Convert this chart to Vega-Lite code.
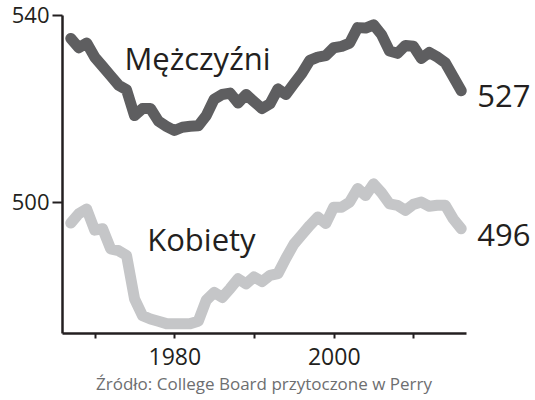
{
  "$schema": "https://vega.github.io/schema/vega-lite/v6.json",
  "width": 404,
  "height": 318,
  "autosize": "none",
  "padding": {"left": 62, "top": 15, "right": 69, "bottom": 67},
  "background": "white",
  "config": {"view": {"stroke": null}, "font": "Open Sans"},
  "title": {
    "text": "Źródło: College Board przytoczone w Perry",
    "orient": "bottom",
    "anchor": "middle",
    "fontSize": 17,
    "fontWeight": "normal",
    "font": "Open Sans",
    "color": "#6d6e70",
    "offset": 8
  },
  "datasets": {
    "scores": [
      {"year": 1967, "sex": "M", "score": 535}, {"year": 1968, "sex": "M", "score": 533}, {"year": 1969, "sex": "M", "score": 534},
      {"year": 1970, "sex": "M", "score": 531}, {"year": 1971, "sex": "M", "score": 529}, {"year": 1972, "sex": "M", "score": 527},
      {"year": 1973, "sex": "M", "score": 525}, {"year": 1974, "sex": "M", "score": 524}, {"year": 1975, "sex": "M", "score": 518.5},
      {"year": 1976, "sex": "M", "score": 520}, {"year": 1977, "sex": "M", "score": 520}, {"year": 1978, "sex": "M", "score": 517.3},
      {"year": 1979, "sex": "M", "score": 516.2}, {"year": 1980, "sex": "M", "score": 515.3}, {"year": 1981, "sex": "M", "score": 516},
      {"year": 1982, "sex": "M", "score": 516.2}, {"year": 1983, "sex": "M", "score": 516.3}, {"year": 1984, "sex": "M", "score": 518.5},
      {"year": 1985, "sex": "M", "score": 522}, {"year": 1986, "sex": "M", "score": 523}, {"year": 1987, "sex": "M", "score": 523.3},
      {"year": 1988, "sex": "M", "score": 521.2}, {"year": 1989, "sex": "M", "score": 523}, {"year": 1990, "sex": "M", "score": 521.5},
      {"year": 1991, "sex": "M", "score": 520}, {"year": 1992, "sex": "M", "score": 521}, {"year": 1993, "sex": "M", "score": 524.2},
      {"year": 1994, "sex": "M", "score": 523}, {"year": 1995, "sex": "M", "score": 525.3}, {"year": 1996, "sex": "M", "score": 527.5},
      {"year": 1997, "sex": "M", "score": 530.3}, {"year": 1998, "sex": "M", "score": 531}, {"year": 1999, "sex": "M", "score": 531.3},
      {"year": 2000, "sex": "M", "score": 533}, {"year": 2001, "sex": "M", "score": 533.3}, {"year": 2002, "sex": "M", "score": 534},
      {"year": 2003, "sex": "M", "score": 537.3}, {"year": 2004, "sex": "M", "score": 537.2}, {"year": 2005, "sex": "M", "score": 537.9},
      {"year": 2006, "sex": "M", "score": 535.8}, {"year": 2007, "sex": "M", "score": 532.3}, {"year": 2008, "sex": "M", "score": 531.8},
      {"year": 2009, "sex": "M", "score": 533.5}, {"year": 2010, "sex": "M", "score": 533.3}, {"year": 2011, "sex": "M", "score": 530.7},
      {"year": 2012, "sex": "M", "score": 532}, {"year": 2013, "sex": "M", "score": 531}, {"year": 2014, "sex": "M", "score": 529.8},
      {"year": 2015, "sex": "M", "score": 526.8}, {"year": 2016, "sex": "M", "score": 523.8},
      {"year": 1967, "sex": "K", "score": 495.5}, {"year": 1968, "sex": "K", "score": 497.5}, {"year": 1969, "sex": "K", "score": 498.5},
      {"year": 1970, "sex": "K", "score": 494}, {"year": 1971, "sex": "K", "score": 494.3}, {"year": 1972, "sex": "K", "score": 490},
      {"year": 1973, "sex": "K", "score": 489.6}, {"year": 1974, "sex": "K", "score": 488.6}, {"year": 1975, "sex": "K", "score": 479.3},
      {"year": 1976, "sex": "K", "score": 475.7}, {"year": 1977, "sex": "K", "score": 475}, {"year": 1978, "sex": "K", "score": 474.5},
      {"year": 1979, "sex": "K", "score": 474}, {"year": 1980, "sex": "K", "score": 474}, {"year": 1981, "sex": "K", "score": 474},
      {"year": 1982, "sex": "K", "score": 474}, {"year": 1983, "sex": "K", "score": 474.5}, {"year": 1984, "sex": "K", "score": 479},
      {"year": 1985, "sex": "K", "score": 480.7}, {"year": 1986, "sex": "K", "score": 479.6}, {"year": 1987, "sex": "K", "score": 481.5},
      {"year": 1988, "sex": "K", "score": 483.6}, {"year": 1989, "sex": "K", "score": 482.5}, {"year": 1990, "sex": "K", "score": 484},
      {"year": 1991, "sex": "K", "score": 483}, {"year": 1992, "sex": "K", "score": 484.3}, {"year": 1993, "sex": "K", "score": 484.7},
      {"year": 1994, "sex": "K", "score": 488}, {"year": 1995, "sex": "K", "score": 491}, {"year": 1996, "sex": "K", "score": 493},
      {"year": 1997, "sex": "K", "score": 495}, {"year": 1998, "sex": "K", "score": 496.8}, {"year": 1999, "sex": "K", "score": 495.4},
      {"year": 2000, "sex": "K", "score": 498.9}, {"year": 2001, "sex": "K", "score": 498.9}, {"year": 2002, "sex": "K", "score": 500},
      {"year": 2003, "sex": "K", "score": 502.9}, {"year": 2004, "sex": "K", "score": 501.4}, {"year": 2005, "sex": "K", "score": 503.9},
      {"year": 2006, "sex": "K", "score": 502}, {"year": 2007, "sex": "K", "score": 499.6}, {"year": 2008, "sex": "K", "score": 499.3},
      {"year": 2009, "sex": "K", "score": 498.2}, {"year": 2010, "sex": "K", "score": 499.5}, {"year": 2011, "sex": "K", "score": 500},
      {"year": 2012, "sex": "K", "score": 499.1}, {"year": 2013, "sex": "K", "score": 499.3}, {"year": 2014, "sex": "K", "score": 499.3},
      {"year": 2015, "sex": "K", "score": 496.4}, {"year": 2016, "sex": "K", "score": 494.3}
    ],
    "seriesLabels": [
      {"year": 1982.9, "score": 528.2, "text": "Mężczyźni"},
      {"year": 1983.4, "score": 489.5, "text": "Kobiety"}
    ],
    "endLabels": [
      {"year": 2016, "score": 520.4, "text": "527"},
      {"year": 2016, "score": 490.6, "text": "496"}
    ]
  },
  "encoding": {
    "x": {
      "field": "year",
      "type": "quantitative",
      "scale": {"domain": [1965.9, 2016.6], "nice": false, "zero": false},
      "axis": {
        "title": null,
        "values": [1970, 1980, 1990, 2000, 2010],
        "labelExpr": "datum.value == 1980 || datum.value == 2000 ? datum.value : ''",
        "grid": false,
        "domainColor": "#231f20",
        "domainWidth": 2.5,
        "tickColor": "#231f20",
        "tickWidth": 2,
        "tickSize": 5,
        "labelFontSize": 23,
        "labelFont": "Open Sans",
        "labelColor": "#231f20",
        "labelPadding": 8
      }
    },
    "y": {
      "field": "score",
      "type": "quantitative",
      "scale": {"domain": [472, 540], "nice": false, "zero": false},
      "axis": {
        "title": null,
        "values": [500, 540],
        "grid": false,
        "domainColor": "#231f20",
        "domainWidth": 2.5,
        "tickColor": "#231f20",
        "tickWidth": 2,
        "tickSize": 10,
        "labelFontSize": 22,
        "labelFont": "Open Sans",
        "labelColor": "#231f20",
        "labelPadding": 3
      }
    }
  },
  "layer": [
    {
      "data": {"name": "scores"},
      "mark": {"type": "line", "strokeWidth": 11, "strokeCap": "round", "strokeJoin": "round"},
      "encoding": {
        "color": {
          "field": "sex",
          "type": "nominal",
          "scale": {"domain": ["M", "K"], "range": ["#5e5e60", "#c5c6c8"]},
          "legend": null
        }
      }
    },
    {
      "data": {"name": "seriesLabels"},
      "mark": {"type": "text", "align": "center", "baseline": "alphabetic", "fontSize": 31, "font": "Open Sans", "color": "#231f20"},
      "encoding": {"text": {"field": "text"}}
    },
    {
      "data": {"name": "endLabels"},
      "mark": {"type": "text", "align": "left", "baseline": "alphabetic", "dx": 16, "fontSize": 31, "font": "Open Sans", "color": "#231f20"},
      "encoding": {"text": {"field": "text"}}
    }
  ]
}
